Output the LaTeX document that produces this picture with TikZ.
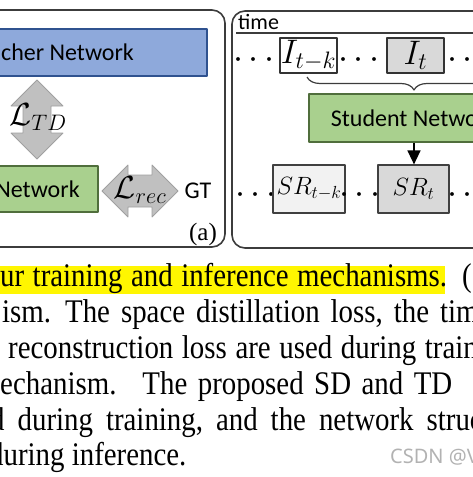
\RequirePackage{fix-cm}
\documentclass[tikz,border=0pt]{standalone}
\usepackage[no-math]{fontspec}
\setmainfont{Liberation Serif}
\setsansfont{Carlito}
\newfontfamily\captionfont{Liberation Serif}[FakeStretch=0.875]
\newfontfamily\markfont{Noto Sans}
\usetikzlibrary{arrows.meta, positioning, decorations.pathreplacing}
\definecolor{teacherfill}{RGB}{142,169,219}
\definecolor{teacherline}{RGB}{47,82,143}
\definecolor{studentfill}{RGB}{169,208,142}
\definecolor{studentline}{RGB}{80,110,60}
\definecolor{lossfill}{RGB}{192,192,192}
\definecolor{lossline}{RGB}{160,160,160}
\definecolor{framegray}{RGB}{217,217,217}
\definecolor{framelight}{RGB}{242,242,242}
\definecolor{panelline}{RGB}{60,60,60}
\definecolor{marker}{RGB}{255,246,0}
\newcommand{\tdots}{$\cdotp$\hspace{5.5pt}$\cdotp$\hspace{5.5pt}$\cdotp$}

\begin{document}
\begin{tikzpicture}[x=1pt, y=-1pt, line join=round,
  netbox/.style={draw, line width=1.3pt, inner sep=0pt, font=\sffamily\fontsize{24}{28}\selectfont},
  framebox/.style={draw=black!80, line width=1.2pt, inner sep=0pt, minimum width=57pt, minimum height=35pt, font=\fontsize{34}{40}\selectfont},
  srbox/.style={draw=black!75, line width=1.2pt, inner sep=0pt, minimum width=72pt, minimum height=48pt, font=\fontsize{25}{30}\selectfont},
  lossarrow/.style={fill=lossfill, draw=lossline, line width=0.8pt},
  losslabel/.style={inner sep=0pt, font=\fontsize{32}{36}\selectfont},
  panel/.style={draw=panelline, line width=1.6pt, rounded corners=13pt},
  dots/.style={anchor=base, inner sep=0pt, text height=12pt, text depth=0pt, font=\fontsize{36}{40}\selectfont},
  capline/.style={anchor=base west, inner sep=0pt, font=\captionfont\fontsize{33}{36}\selectfont},
]
\useasboundingbox (0,0) rectangle (473,477);
\clip (0,0) rectangle (473,477);

% panels
\draw[panel] (-30,10) rectangle (225,247);
\draw[panel] (232,11) rectangle (520,248);

% training side
\node[netbox, fill=teacherfill, draw=teacherline, minimum width=312pt, minimum height=47pt] (teacher) at (51,52.5) {Teacher Network};
\node[netbox, fill=studentfill, draw=studentline, minimum width=203pt, minimum height=46pt] (studentL) at (-3.5,189) {Student Network};

\filldraw[lossarrow] (37,80) -- (63,106) -- (51,106) -- (51,133) -- (63,133) -- (37,159)
  -- (11,133) -- (23,133) -- (23,106) -- (11,106) -- cycle;
\node[losslabel] (ltd) at (38,117) {$\mathcal{L}_{TD}$};

\filldraw[lossarrow] (102,191) -- (128,165) -- (128,175) -- (152,175) -- (152,165) -- (178,191)
  -- (152,217) -- (152,207) -- (128,207) -- (128,217) -- cycle;
\node[losslabel] (lrec) at (140,190) {$\mathcal{L}_{rec}$};

\node[inner sep=0pt, font=\sffamily\fontsize{24}{28}\selectfont] (gt) at (198,191) {GT};
\node[inner sep=0pt, font=\fontsize{25}{30}\selectfont] (lbla) at (203,234) {(a)};

% inference side
\node[anchor=base west, inner sep=0pt, font=\sffamily\fontsize{22}{26}\selectfont] (time) at (238,29) {time};
\draw[line width=1.2pt, panelline] (236,33) -- (520,33);

\node[dots] (d1) at (254,68) {\tdots};
\node[framebox] (itk) at (308.5,55.5) {$I_{t-k}$};
\node[dots] (d2) at (359,68) {\tdots};
\node[framebox, fill=framegray] (it) at (415.5,55.5) {$I_t$};
\node[dots] (d3) at (468,68) {\tdots};

\draw[line width=1.2pt, panelline, decorate, decoration={brace, mirror, amplitude=13pt}] (307,77) -- (521,77);

\node[netbox, fill=studentfill, draw=studentline, minimum width=210pt, minimum height=48pt] (studentR) at (414,118) {Student Network};

\node[dots] (d4) at (256,203) {\tdots};
\node[srbox, fill=framelight] (srtk) at (309,189) {$SR_{t-k}$};
\node[dots] (d5) at (360,203) {\tdots};
\node[srbox, fill=framegray, minimum width=71pt] (srt) at (413.5,189) {$SR_t$};
\node[dots] (d6) at (468,203) {\tdots};

\draw[-{Triangle[width=13pt,length=14pt]}, line width=1.5pt] (studentR.south) -- (studentR.south |- srt.north);

% caption
\fill[marker] (-5,266) rectangle (445,294);
\node[capline] (cap1) at (0,286) {\spaceskip=8.5pt\xspaceskip=15pt ur training and inference mechanisms. (};
\node[capline] (cap2) at (2,322) {\spaceskip=11pt\xspaceskip=14pt ism. The space distillation loss, the tim};
\node[capline] (cap3) at (8,358) {\spaceskip=8.6pt reconstruction loss are used during train};
\node[capline] (cap4) at (0,394) {\spaceskip=10.5pt\xspaceskip=26pt echanism. The proposed SD and TD};
\node[capline] (cap5) at (-10,430) {\spaceskip=13pt d during training, and the network struc};
\node[capline] (cap6) at (-11,465) {during inference.};

\node[anchor=base west, inner sep=0pt, text=black!30, font=\markfont\fontsize{20}{24}\selectfont] (mark) at (390,463) {CSDN @V};
\end{tikzpicture}
\end{document}
